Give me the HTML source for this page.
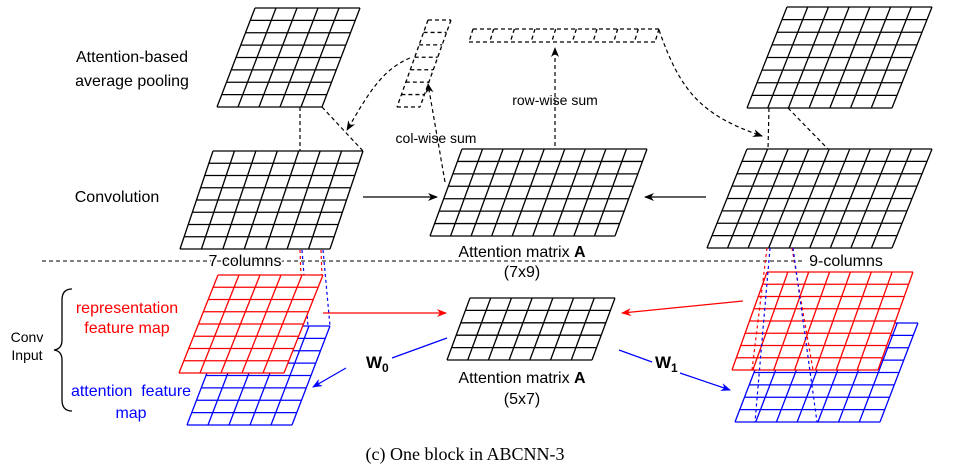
<!DOCTYPE html>
<html><head><meta charset="utf-8"><style>
html,body{margin:0;padding:0;background:#fff;}
svg{display:block;}
text{font-family:"Liberation Sans",sans-serif;}
</style></head><body>
<svg id="s" width="955" height="473" viewBox="0 0 955 473" xmlns="http://www.w3.org/2000/svg">
<defs>
<marker id="ak" markerWidth="10" markerHeight="8" refX="9" refY="4" orient="auto" markerUnits="userSpaceOnUse"><path d="M0,0 L10,4 L0,8 L3,4 z" fill="#000"/></marker>
<marker id="ar" markerWidth="10" markerHeight="8" refX="9" refY="4" orient="auto" markerUnits="userSpaceOnUse"><path d="M0,0 L10,4 L0,8 L3,4 z" fill="#f00"/></marker>
<marker id="ab" markerWidth="10" markerHeight="8" refX="9" refY="4" orient="auto" markerUnits="userSpaceOnUse"><path d="M0,0 L10,4 L0,8 L3,4 z" fill="#00f"/></marker>
</defs>
<g id="grids"></g>
<g fill="none" stroke-width="1.2">
<!-- dashed separator -->
<line x1="42" y1="261" x2="805" y2="261" stroke="#000" stroke-dasharray="4,3" stroke-width="1"/>
<!-- pooling to conv dashed -->
<line x1="300" y1="107" x2="300" y2="151" stroke="#000" stroke-dasharray="4,3"/>
<line x1="322" y1="107" x2="363" y2="151" stroke="#000" stroke-dasharray="4,3"/>
<line x1="769" y1="108" x2="768" y2="149" stroke="#000" stroke-dasharray="4,3"/>
<line x1="788" y1="108" x2="828" y2="149" stroke="#000" stroke-dasharray="4,3"/>
<!-- conv to attention -->
<line x1="363" y1="197" x2="437" y2="197" stroke="#000" marker-end="url(#ak)"/>
<line x1="706" y1="197" x2="645" y2="197" stroke="#000" marker-end="url(#ak)"/>
<!-- col-wise / row-wise sums -->
<line x1="445" y1="182" x2="428" y2="84" stroke="#000" stroke-dasharray="4,3" marker-end="url(#ak)"/>
<line x1="555" y1="146" x2="555" y2="48" stroke="#000" stroke-dasharray="4,3" marker-end="url(#ak)"/>
<path d="M410,58 C380,70 365,100 347,130" stroke="#000" stroke-dasharray="4,3" marker-end="url(#ak)"/>
<path d="M659,30 C680,90 700,115 762,136" stroke="#000" stroke-dasharray="4,3" marker-end="url(#ak)"/>
<!-- red/blue dashed to inputs -->
<line x1="300" y1="250" x2="301" y2="276" stroke="#f00" stroke-dasharray="3,3"/>
<line x1="321" y1="250" x2="322" y2="276" stroke="#f00" stroke-dasharray="3,3"/>
<line x1="302" y1="250" x2="308" y2="326" stroke="#00f" stroke-dasharray="3,3"/>
<line x1="323" y1="250" x2="330" y2="326" stroke="#00f" stroke-dasharray="3,3"/>
<!-- red arrows -->
<line x1="323" y1="313" x2="446" y2="313" stroke="#f00" marker-end="url(#ar)"/>
<line x1="743" y1="301" x2="622" y2="313" stroke="#f00" marker-end="url(#ar)"/>
<!-- blue arrows -->
<line x1="447" y1="338" x2="392" y2="358" stroke="#00f"/>
<line x1="346" y1="368" x2="313" y2="387" stroke="#00f" marker-end="url(#ab)"/>
<line x1="619" y1="350" x2="652" y2="362" stroke="#00f"/>
<line x1="680" y1="373" x2="730" y2="390" stroke="#00f" marker-end="url(#ab)"/>
<!-- brace -->
<path d="M72,289 Q62,289 62,300 L62,340 Q62,349 54,350 Q62,351 62,360 L62,400 Q62,411 72,411" stroke="#000" stroke-width="1.3"/>
</g>
<g id="grids2"></g>
<g id="rdash" fill="none" stroke-width="1.2">
<line x1="767" y1="248" x2="752" y2="370" stroke="#f00" stroke-dasharray="3,3"/>
<line x1="792" y1="248" x2="813" y2="370" stroke="#f00" stroke-dasharray="3,3"/>
<line x1="770" y1="248" x2="755" y2="422" stroke="#00f" stroke-dasharray="3,3"/>
<line x1="793" y1="248" x2="817" y2="422" stroke="#00f" stroke-dasharray="3,3"/>
</g>
<g font-size="16" fill="#000">
<text x="132" y="62" text-anchor="middle">Attention-based</text>
<text x="132" y="86" text-anchor="middle">average pooling</text>
<text x="117" y="202" text-anchor="middle">Convolution</text>
<text x="522" y="257" text-anchor="middle">Attention matrix <tspan font-weight="bold">A</tspan></text>
<text x="522" y="277" text-anchor="middle">(7x9)</text>
<text x="522" y="383" text-anchor="middle">Attention matrix <tspan font-weight="bold">A</tspan></text>
<text x="522" y="404" text-anchor="middle">(5x7)</text>
<text x="245" y="266" text-anchor="middle" style="paint-order:stroke" stroke="#fff" stroke-width="3">7 columns</text>
<text x="846" y="266" text-anchor="middle" style="paint-order:stroke" stroke="#fff" stroke-width="3">9-columns</text>
</g>
<g font-size="14" fill="#000">
<text x="555" y="105" text-anchor="middle">row-wise sum</text>
<text x="436" y="143" text-anchor="middle">col-wise sum</text>
<text x="27" y="342" text-anchor="middle">Conv</text>
<text x="27" y="360" text-anchor="middle">Input</text>
</g>
<g font-size="16">
<text x="127" y="313" text-anchor="middle" fill="#f00">representation</text>
<text x="127" y="333" text-anchor="middle" fill="#f00">feature map</text>
<text x="131" y="396" text-anchor="middle" fill="#00f" xml:space="preserve">attention  feature</text>
<text x="131" y="418" text-anchor="middle" fill="#00f">map</text>
</g>
<g font-size="17" font-weight="bold" fill="#000">
<text x="366" y="368">W<tspan font-size="12" dy="4">0</tspan></text>
<text x="655" y="368">W<tspan font-size="12" dy="4">1</tspan></text>
</g>
<text x="465" y="460" text-anchor="middle" font-size="18" style="font-family:'Liberation Serif',serif">(c)  One block in ABCNN-3</text>
</svg>
<script>
function grid(g,x,y,w,h,sk,c,r,col,dash,fill){
  var ns="http://www.w3.org/2000/svg",d="";
  for(var i=0;i<=r;i++){var t=i/r;var yy=y+h*t,xx=x+sk*t;d+="M"+xx+","+yy+"L"+(xx+w)+","+yy;}
  for(var j=0;j<=c;j++){var xx=x+w*j/c;d+="M"+xx+","+y+"L"+(xx+sk)+","+(y+h);}
  if(fill){var p=document.createElementNS(ns,"path");p.setAttribute("d","M"+x+","+y+"L"+(x+w)+","+y+"L"+(x+w+sk)+","+(y+h)+"L"+(x+sk)+","+(y+h)+"Z");p.setAttribute("fill","#fff");g.appendChild(p);}
  var e=document.createElementNS(ns,"path");e.setAttribute("d",d);e.setAttribute("fill","none");e.setAttribute("stroke",col);e.setAttribute("stroke-width","1.3");
  if(dash)e.setAttribute("stroke-dasharray","4,3");g.appendChild(e);
}
var G=document.getElementById("grids"),G2=document.getElementById("grids2");
grid(G,255,8,105,99,-38,5,8,"#000");
grid(G,213,151,150,98,-33,7,8,"#000");
grid(G,462,149,185,87,-32,9,7,"#000");
grid(G,428,20,23,87,-31,1,7,"#000",1);
grid(G,473,29,186,13,-4,9,1,"#000",1);
grid(G,787,7,145,101,-40,7,8,"#000");
grid(G,747,149,185,99,-40,9,8,"#000");
grid(G,470,298,145,62,-23,7,5,"#000");
grid(G2,225,326,105,99,-38,5,8,"#00f",0,1);
grid(G2,218,275,105,98,-39,5,8,"#f00",0,1);
grid(G2,773,323,145,99,-38,7,8,"#00f",0,1);
grid(G2,767,272,146,98,-35,7,8,"#f00",0,1);
</script>
</body></html>
